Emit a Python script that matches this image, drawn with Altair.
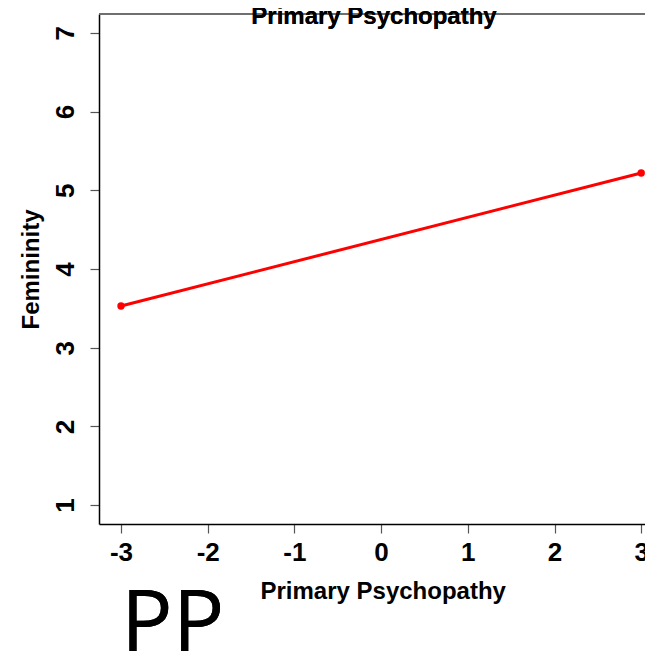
import altair as alt
import pandas as pd

# data
pp_levels = [-3, 3]
femininity = [3.53, 5.22]
x_ticks = [-3, -2, -1, 0, 1, 2, 3]
y_ticks = [1, 2, 3, 4, 5, 6, 7]

df = pd.DataFrame({"pp": pp_levels, "fem": femininity})

W, H = 546, 510
K = 86.7  # px per x unit
FONT = "Liberation Sans"

x_lo = -3 - 22 / K
xs = alt.Scale(domain=[x_lo, x_lo + W / K], nice=False, zero=False)
ys = alt.Scale(domain=[0.76, 7.24], nice=False, zero=False)

xaxis = alt.Axis(values=x_ticks, title="Primary Psychopathy", grid=False,
                 labelExpr="toString(datum.value)",
                 domainColor="black", domainWidth=1.5, tickColor="#555", tickWidth=1.2,
                 tickSize=9, labelFont=FONT, labelFontWeight="bold", labelFontSize=26,
                 labelColor="black", labelPadding=6, labelFlush=False, labelOverlap=False,
                 titleFont=FONT, titleFontWeight="bold", titleFontSize=24,
                 titleColor="black", titlePadding=14, titleAnchor="start", titleX=161)
yaxis = alt.Axis(values=y_ticks, title="Femininity", grid=False,
                 labelExpr="toString(datum.value)",
                 domainColor="black", domainWidth=1.5, tickColor="#555", tickWidth=1.2,
                 tickSize=9, labelFont=FONT, labelFontWeight="bold", labelFontSize=26,
                 labelColor="black", labelAngle=270, labelAlign="center",
                 labelBaseline="bottom", labelPadding=12, labelFlush=False,
                 labelOverlap=False,
                 titleFont=FONT, titleFontWeight="bold", titleFontSize=24,
                 titleColor="black", titlePadding=9)

base = alt.Chart(df)

line = base.mark_line(color="red", strokeWidth=3, clip=False).encode(
    x=alt.X("pp:Q", scale=xs, axis=xaxis),
    y=alt.Y("fem:Q", scale=ys, axis=yaxis),
)
pts = base.mark_circle(color="red", size=55, opacity=1).encode(
    x=alt.X("pp:Q", scale=xs),
    y=alt.Y("fem:Q", scale=ys),
)
top_border = base.mark_rule(color="#666", strokeWidth=1.5).encode(
    x=alt.value(0), x2=alt.value(W), y=alt.value(0)
)
title_txt = base.mark_text(text="Primary Psychopathy", font=FONT, fontWeight="bold",
                           fontSize=24, align="center", baseline="alphabetic",
                           color="black").encode(
    x=alt.value(275), y=alt.value(10)
)
pp_txt = base.mark_text(text="PP", font="Open Sans", fontSize=86, align="left",
                        baseline="alphabetic", color="black").encode(
    x=alt.value(22), y=alt.value(637)
)

chart = alt.layer(top_border, line, pts, title_txt, pp_txt).properties(
    width=W, height=H,
    autosize=alt.AutoSizeParams(type="none"),
    padding={"left": 91, "top": 6, "right": 0, "bottom": 131},
).configure_view(stroke=None)

chart.save("out.html", embed_options={"renderer": "svg", "actions": False})
